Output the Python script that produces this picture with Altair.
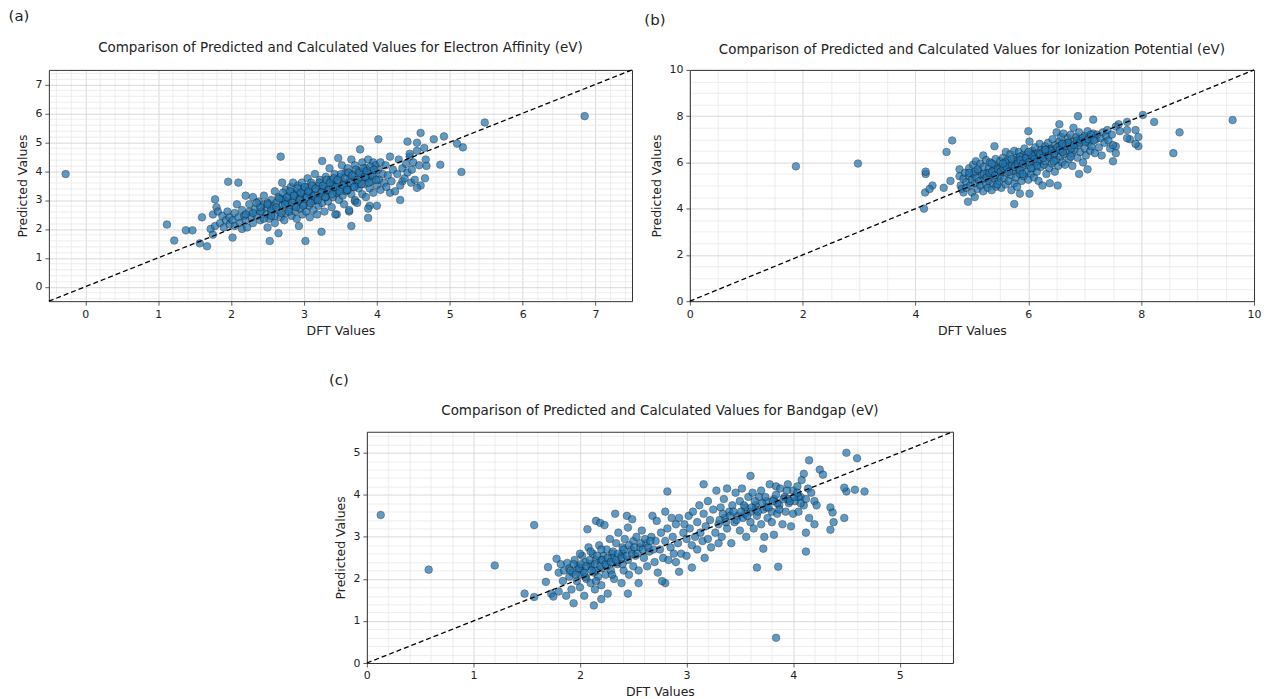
import altair as alt
import pandas as pd
import numpy as np

# ---------------- Panel (a): Electron Affinity ----------------
ea_x = [-0.27, 6.85, 5.48, 1.12, 1.22, 1.38, 1.47, 1.57, 1.67, 1.6, 1.75, 1.78, 1.96, 2.1, 2.02, 2.68, 2.53, 3.02, 3.24, 2.65,
        2.93, 3.65, 3.88, 4.32, 5.16, 4.87, 5.18, 5.1, 4.92, 4.78, 4.6, 4.02, 3.77, 4.42, 4.55, 4.65, 4.45, 4.67, 4.68, 4.66,
        4.6, 4.55, 4.47, 4.35, 4.18, 4.0, 3.9, 3.88, 3.7, 3.45, 3.62,
        1.72, 1.75, 1.78, 1.8, 1.82, 1.85, 1.88, 1.9, 1.93, 1.95, 1.98, 1.98,
        2.02, 2.05, 2.05, 2.08, 2.1, 2.12, 2.15, 2.15, 2.18, 2.2, 2.2, 2.22, 2.25, 2.25, 2.28, 2.3, 2.3,
        2.33, 2.35, 2.38, 2.4, 2.42, 2.45, 2.45, 2.48, 2.5, 2.5, 2.52, 2.55, 2.55, 2.58, 2.6, 2.6, 2.6,
        2.62, 2.65, 2.65, 2.68, 2.7, 2.7, 2.72, 2.73, 2.75, 2.75, 2.78, 2.8, 2.8, 2.82, 2.83, 2.85, 2.85, 2.87, 2.88, 2.9,
        2.9, 2.92, 2.93, 2.95, 2.95, 2.97, 2.98, 3.0, 3.0, 3.02, 3.03, 3.05, 3.05, 3.07, 3.08, 3.1, 3.1, 3.12, 3.13, 3.15,
        3.15, 3.17, 3.18, 3.2, 3.2,
        3.22, 3.23, 3.25, 3.25, 3.27, 3.28, 3.3, 3.3, 3.32, 3.33, 3.35, 3.35, 3.37, 3.38, 3.4, 3.4, 3.42, 3.43, 3.45, 3.45,
        3.47, 3.48, 3.5, 3.5,
        3.52, 3.53, 3.55, 3.55, 3.57, 3.58, 3.6, 3.6, 3.62, 3.63, 3.65, 3.65, 3.67, 3.68, 3.7, 3.7, 3.72, 3.73, 3.75, 3.75,
        3.78, 3.8, 3.8,
        3.82, 3.83, 3.85, 3.85, 3.87, 3.88, 3.9, 3.92, 3.93, 3.95, 3.95, 3.97, 3.98, 4.0, 4.02, 4.03, 4.05, 4.05, 4.08, 4.1,
        4.12, 4.13, 4.15, 4.18, 4.2, 4.22, 4.25, 4.28, 4.3, 4.32, 4.35, 4.38, 4.4, 4.42, 4.45, 4.48, 4.5, 4.52, 4.55, 4.58,
        2.4, 2.55, 2.75, 2.95, 3.1, 3.25, 3.4, 3.55, 3.7, 3.85, 2.85, 3.0, 3.15, 3.3, 3.45, 3.6, 3.75, 2.5, 2.7, 3.05]
ea_y = [3.9, 5.9, 5.68, 2.15, 1.6, 1.95, 1.95, 1.5, 1.4, 2.4, 2.5, 3.02, 3.63, 3.6, 1.7, 4.5, 1.58, 1.58, 1.9, 1.85,
        2.1, 2.1, 2.38, 3.0, 3.97, 4.22, 4.82, 4.95, 5.2, 5.1, 5.32, 5.1, 4.75, 5.02, 4.98, 4.8, 4.5, 4.4, 4.18, 3.75,
        3.5, 3.42, 3.6, 3.65, 3.25, 2.8, 2.8, 2.7, 2.95, 2.5, 2.6,
        2.0, 1.8, 2.1, 2.75, 2.6, 2.2, 2.45, 2.05, 2.3, 2.6, 2.15, 2.4,
        2.3, 2.55, 2.1, 2.85, 2.4, 2.2, 2.65, 2.0, 2.45, 3.15, 2.3, 2.05, 2.6, 2.85, 2.4, 3.1, 2.2,
        2.7, 2.45, 2.95, 2.3, 2.6, 2.85, 3.15, 2.5, 2.05, 2.75, 2.35, 3.0, 2.6, 2.8, 3.3, 2.45, 2.2,
        2.9, 2.65, 3.1, 2.4, 3.6, 2.8, 3.0, 2.3, 3.35, 2.55, 2.9, 3.15, 2.7, 3.45, 2.45, 3.0, 3.6, 2.8, 2.6, 3.25,
        2.35, 3.5, 2.95, 3.1, 2.7, 3.6, 2.5, 3.3, 2.85, 3.05, 2.6, 3.75, 3.45, 2.8, 2.4, 3.2, 3.6, 2.95, 2.65, 3.9,
        3.35, 3.05, 2.5, 3.5, 2.8,
        3.7, 3.15, 4.35, 2.9, 3.4, 2.6, 3.8, 3.25, 3.55, 2.95, 4.1, 3.35, 3.7, 2.75, 3.5, 3.1, 3.9, 2.5, 3.65, 3.25,
        4.45, 3.0, 3.8, 3.4,
        4.2, 3.15, 3.6, 2.85, 3.95, 3.3, 4.1, 3.5, 2.65, 3.75, 4.4, 3.2, 3.9, 3.45, 4.2, 3.0, 3.65, 2.9, 4.0, 3.4,
        3.8, 4.3, 3.2,
        3.95, 3.55, 4.1, 3.1, 3.75, 4.4, 3.4, 4.0, 3.65, 4.3, 3.25, 3.85, 4.2, 3.5, 4.05, 3.7, 4.3, 3.35, 3.9, 3.6,
        4.2, 3.45, 3.85, 4.5, 3.65, 4.05, 3.3, 3.9, 4.4, 3.5, 4.1, 3.75, 4.25, 3.95, 4.6, 4.05, 4.3, 3.7, 4.7, 4.2,
        2.6, 2.7, 2.95, 3.05, 3.15, 3.3, 3.45, 3.55, 3.7, 3.8, 3.2, 3.35, 3.0, 3.1, 3.25, 3.35, 3.55, 2.9, 3.05, 3.25]
ea_x_core = [2.62, 2.66, 2.69, 2.71, 2.74, 2.77, 2.79, 2.81, 2.84, 2.86, 2.89, 2.91, 2.94, 2.96, 2.99, 3.01, 3.04, 3.06,
             3.09, 3.11, 3.14, 3.16, 3.19, 3.21, 3.24, 3.26, 3.29, 3.31, 3.34, 3.36, 3.39, 3.41, 3.44, 3.46, 3.49, 3.51,
             3.54, 3.56, 3.59, 3.61, 3.64, 3.66, 3.69, 3.71, 3.74, 3.76, 3.79, 3.81, 3.84, 3.86, 3.89, 3.91, 3.94, 3.96,
             3.99, 2.2, 2.3, 2.4, 2.5, 2.35, 2.45, 2.55]
ea_y_core = [2.75, 3.05, 2.55, 3.25, 2.85, 3.1, 2.6, 3.3, 2.9, 3.15, 2.75, 3.4, 3.0, 3.25, 2.8, 3.45, 3.1, 3.3,
             2.9, 3.5, 3.15, 3.4, 3.0, 3.6, 3.25, 3.5, 3.1, 3.7, 3.35, 3.6, 3.2, 3.75, 3.45, 3.7, 3.3, 3.9,
             3.5, 3.75, 3.35, 3.95, 3.6, 3.85, 3.45, 4.05, 3.7, 3.95, 3.55, 4.1, 3.8, 4.0, 3.6, 4.15, 3.85, 4.05,
             3.7, 2.5, 2.55, 2.75, 2.85, 2.9, 2.35, 2.45]

# ---------------- Panel (b): Ionization Potential ----------------
ip_x = [1.88, 2.98, 4.15, 4.17, 4.18, 4.18, 4.3, 4.25, 4.5, 4.55, 4.65, 4.62, 9.62, 8.68, 8.57, 8.23, 8.03, 7.95, 7.9, 7.5,
        6.88, 7.15, 6.55, 5.75, 4.93, 6.52, 6.02, 5.85, 6.9, 7.05, 6.38, 7.75, 7.6, 7.8, 7.75, 7.9, 7.95, 7.55, 7.55, 7.55,
        7.62, 7.75, 6.0, 5.4, 5.2,
        4.78, 4.78, 4.8, 4.82, 4.85, 4.85, 4.88, 4.9, 4.9, 4.95, 4.95, 4.97, 5.0, 5.0,
        5.02, 5.03, 5.05, 5.05, 5.07, 5.08, 5.1, 5.12, 5.13, 5.15, 5.15, 5.18, 5.2, 5.2, 5.22, 5.25, 5.25, 5.27, 5.28, 5.3, 5.3,
        5.32, 5.33, 5.35, 5.37, 5.38, 5.4, 5.4, 5.42, 5.43, 5.45, 5.47, 5.48, 5.5, 5.5, 5.52, 5.53, 5.55, 5.57, 5.58, 5.6, 5.6,
        5.62, 5.63, 5.65, 5.67, 5.68, 5.7, 5.7, 5.72, 5.73, 5.75, 5.75, 5.77, 5.78, 5.8, 5.8, 5.82, 5.83, 5.85, 5.87, 5.88,
        5.9, 5.9,
        5.92, 5.93, 5.95, 5.97, 5.98, 6.0, 6.0, 6.02, 6.03, 6.05, 6.07, 6.08, 6.1, 6.1, 6.12, 6.13, 6.15, 6.17, 6.18, 6.2, 6.2,
        6.22, 6.23, 6.25, 6.27, 6.28, 6.3, 6.3, 6.32, 6.35, 6.35, 6.37, 6.38, 6.4, 6.42, 6.43, 6.45, 6.47, 6.48, 6.5, 6.5,
        6.52, 6.53, 6.55, 6.57, 6.58, 6.6, 6.6, 6.62, 6.63, 6.65, 6.67, 6.68, 6.7, 6.72, 6.73, 6.75, 6.77, 6.78, 6.8, 6.8,
        6.82, 6.85, 6.87, 6.88, 6.9, 6.92, 6.95, 6.97, 7.0, 7.0, 7.02, 7.05, 7.07, 7.1, 7.1,
        7.12, 7.15, 7.18, 7.2, 7.22, 7.25, 7.28, 7.3, 7.32, 7.35, 7.38, 7.4, 7.42, 7.45, 7.48, 7.5,
        5.5, 5.65, 5.8, 5.95, 6.1, 6.25, 6.4, 6.55, 6.7, 5.6, 5.85, 6.05, 6.3, 6.6, 6.9]
ip_y = [5.83, 5.95, 4.0, 4.7, 5.5, 5.6, 5.0, 4.85, 4.9, 6.45, 6.95, 5.2, 7.83, 7.3, 6.4, 7.75, 8.05, 6.7, 6.8, 6.05,
        8.0, 7.85, 7.65, 4.2, 4.3, 5.0, 4.65, 4.65, 5.5, 5.7, 5.1, 7.75, 7.65, 7.0, 7.05, 7.4, 7.1, 6.4, 6.7, 7.55,
        7.35, 7.4, 7.35, 6.7, 6.3,
        5.7, 5.4, 5.0, 4.85, 5.3, 4.7, 5.55, 5.15, 4.9, 5.75, 5.4, 5.0, 5.25, 4.7,
        5.9, 5.5, 5.1, 4.5, 6.05, 5.35, 4.85, 5.65, 5.2, 5.95, 5.0, 5.45, 4.75, 5.8, 5.3, 6.1, 5.05, 5.55, 4.9, 5.75, 5.2,
        6.0, 5.45, 4.8, 5.65, 5.1, 5.9, 5.3, 6.15, 4.95, 5.55, 5.8, 5.2, 6.05, 5.4, 4.9, 5.65, 6.2, 5.3, 5.9, 5.05, 6.45,
        5.55, 6.1, 5.2, 5.8, 6.35, 4.8, 5.45, 6.0, 5.65, 6.5, 5.1, 5.9, 5.35, 6.2, 4.95, 5.7, 6.45, 5.5, 6.0, 5.2,
        6.3, 5.8,
        5.4, 6.6, 6.05, 5.6, 6.35, 5.25, 5.9, 6.9, 6.15, 5.5, 6.5, 5.75, 6.25, 5.35, 6.65, 6.0, 5.6, 6.4, 5.2, 6.8, 6.1,
        5.8, 6.55, 5.0, 6.3, 5.9, 6.7, 6.05, 5.5, 6.85, 6.4, 5.75, 6.2, 6.6, 5.95, 7.0, 6.3, 5.6, 6.75, 6.1, 7.3,
        6.5, 5.85, 6.9, 6.25, 7.1, 6.0, 6.6, 7.25, 6.35, 5.9, 6.8, 6.5, 7.05, 6.15, 6.7, 7.2, 6.4, 5.85, 6.9, 7.5,
        6.55, 7.1, 6.2, 6.75, 7.3, 6.45, 6.95, 6.0, 7.15, 6.6, 6.3, 7.35, 6.85, 6.5, 7.1,
        6.7, 7.25, 6.4, 7.0, 7.2, 6.65, 7.05, 6.3, 7.3, 6.85, 7.15, 7.4, 6.95, 6.6, 7.2, 6.75,
        5.75, 5.85, 6.1, 6.2, 6.35, 6.45, 6.55, 6.7, 6.85, 6.0, 6.25, 6.35, 6.55, 6.75, 6.95]
ip_x_core = [5.21, 5.26, 5.31, 5.36, 5.41, 5.46, 5.51, 5.56, 5.61, 5.66, 5.71, 5.76, 5.81, 5.86, 5.91, 5.96, 6.01, 6.06,
             6.11, 6.16, 6.21, 6.26, 6.31, 6.36, 6.41, 6.46, 6.51, 6.56, 6.61, 6.66, 6.71, 6.76, 6.81, 6.86, 6.91, 6.96,
             7.01, 7.06, 7.11, 7.16, 5.55, 5.7, 5.85, 6.0, 6.15, 6.3, 6.45, 6.6, 6.75, 5.35, 5.05, 4.95, 5.1, 5.45, 5.9,
             6.05]
ip_y_core = [5.5, 5.35, 5.55, 5.6, 5.45, 5.7, 5.6, 5.75, 5.8, 5.6, 5.9, 5.8, 5.95, 6.1, 5.95, 6.2, 6.0, 6.3,
             6.15, 6.05, 6.35, 6.2, 6.45, 6.3, 6.5, 6.4, 6.65, 6.55, 6.45, 6.7, 6.85, 6.6, 6.75, 6.95, 6.85, 7.05,
             6.9, 7.0, 7.2, 6.95, 5.95, 6.15, 5.65, 6.45, 5.85, 6.55, 6.05, 6.8, 6.25, 5.95, 5.6, 5.55, 5.7, 5.05, 5.5,
             5.75]

# ---------------- Panel (c): Bandgap ----------------
bg_x = [0.13, 0.58, 1.2, 1.57, 1.48, 1.57, 3.84, 3.66, 3.86, 4.12, 4.5, 4.6, 4.67, 4.58, 4.5, 4.48, 4.48, 4.15, 4.25, 4.28,
        2.82, 3.6, 3.16, 4.38, 4.35, 4.37, 4.35, 2.13, 1.94, 2.45, 2.2, 2.8, 2.55, 2.93, 3.05, 3.72, 3.82, 4.12, 4.2,
        1.68, 1.7, 1.73, 1.75, 1.78, 1.8, 1.8, 1.82, 1.84, 1.85, 1.87, 1.88, 1.9, 1.9, 1.92, 1.93, 1.95, 1.97, 1.98, 2.0, 2.0,
        2.02, 2.03, 2.04, 2.05, 2.06, 2.07, 2.08, 2.1, 2.1, 2.12, 2.13, 2.14, 2.15, 2.15, 2.17, 2.18, 2.19, 2.2, 2.2, 2.22,
        2.23, 2.24, 2.25, 2.26, 2.27, 2.28, 2.29, 2.3,
        2.32, 2.33, 2.34, 2.35, 2.36, 2.38, 2.39, 2.4, 2.41, 2.42, 2.44, 2.45, 2.45, 2.46, 2.48, 2.49, 2.5, 2.5, 2.52, 2.53,
        2.55, 2.56, 2.58, 2.6,
        2.62, 2.63, 2.65, 2.67, 2.68, 2.7, 2.71, 2.72, 2.73, 2.75, 2.76, 2.77, 2.78, 2.8, 2.8, 2.82, 2.83, 2.85, 2.86, 2.87,
        2.88, 2.9, 2.9,
        2.92, 2.93, 2.95, 2.97, 2.98, 3.0, 3.0, 3.02, 3.03, 3.05, 3.06, 3.08, 3.1, 3.1, 3.12, 3.13, 3.15, 3.16, 3.17, 3.18,
        3.2, 3.2,
        3.22, 3.23, 3.25, 3.27, 3.28, 3.3, 3.3, 3.32, 3.33, 3.35, 3.36, 3.38, 3.38, 3.4, 3.42, 3.43, 3.45, 3.46, 3.48, 3.5, 3.5,
        3.52, 3.53, 3.55, 3.56, 3.58, 3.6, 3.6, 3.62, 3.63, 3.65, 3.66, 3.68, 3.7, 3.7, 3.72, 3.73, 3.75, 3.76, 3.78, 3.8, 3.8,
        3.82, 3.84, 3.85, 3.87, 3.88, 3.9, 3.92, 3.93, 3.95, 3.96, 3.98, 4.0, 4.0, 4.02, 4.04, 4.05, 4.07, 4.08, 4.1, 4.1,
        4.12, 4.14, 4.15, 4.17, 4.2, 4.22,
        2.0, 2.1, 2.2, 2.3, 2.4, 2.05, 2.15, 2.25, 2.35, 3.55, 3.65, 3.75, 3.85, 3.95, 4.05]
bg_y = [3.52, 2.22, 2.32, 3.28, 1.65, 1.57, 0.6, 2.27, 2.29, 2.65, 5.0, 4.87, 4.08, 4.12, 4.08, 4.17, 3.45, 4.82, 4.6, 4.48,
        4.08, 4.45, 4.25, 3.35, 3.7, 3.58, 3.17, 1.37, 1.42, 1.65, 1.52, 1.9, 1.9, 2.17, 2.27, 2.72, 3.05, 3.1, 3.3,
        1.93, 2.28, 1.65, 1.58, 2.48, 2.15, 1.7, 2.35, 1.95, 2.2, 1.6, 2.38, 2.05, 2.25, 1.75, 2.15, 2.45, 1.95, 2.3, 2.1, 1.8,
        2.55, 2.2, 1.6, 2.4, 2.0, 3.18, 2.75, 2.3, 1.9, 2.6, 2.15, 1.75, 3.38, 2.45, 2.05, 2.8, 3.33, 2.25, 1.85, 2.55,
        3.28, 2.1, 2.7, 1.65, 2.4, 2.95, 2.2, 2.6,
        2.0, 3.55, 2.85, 2.35, 3.1, 2.55, 1.9, 2.75, 2.2, 2.95, 3.5, 2.45, 3.22, 2.1, 2.7, 3.42, 2.3, 2.9, 2.55, 3.0,
        2.2, 2.75, 3.15, 2.5,
        2.85, 2.3, 2.65, 3.0, 3.5, 2.4, 2.9, 3.38, 2.15, 2.7, 3.1, 1.95, 2.5, 2.9, 3.6, 3.2, 2.45, 2.75, 3.45, 3.0,
        2.6, 3.3, 2.4,
        2.85, 3.45, 2.6, 3.1, 3.3, 2.95, 2.55, 3.5, 3.2, 2.8, 3.6, 3.0, 3.35, 2.7, 3.75, 3.1, 2.9, 3.55, 2.5, 3.25,
        3.85, 2.95,
        3.4, 2.75, 3.65, 3.1, 4.1, 3.3, 2.85, 3.7, 3.0, 3.9, 3.45, 4.15, 3.2, 3.6, 2.85, 3.75, 3.35, 4.05, 3.5, 3.15, 3.85,
        4.15, 3.45, 3.7, 3.0, 3.95, 3.35, 3.6, 4.05, 3.2, 3.75, 3.5, 3.95, 3.3, 4.1, 3.65, 3.0, 3.85, 3.45, 4.25, 3.6, 3.35,
        3.9, 4.2, 3.55, 3.75, 4.15, 3.3, 3.95, 3.6, 4.25, 3.8, 3.25, 4.1, 3.55, 3.85, 4.2, 3.6, 3.95, 4.35, 3.75, 4.5,
        3.9, 4.15, 3.45, 4.05, 3.85, 3.75,
        2.25, 2.35, 2.45, 2.5, 2.6, 2.05, 2.2, 2.3, 2.4, 3.55, 3.65, 3.7, 3.8, 3.9, 3.95]
bg_x_core = [1.91, 1.94, 1.96, 1.99, 2.01, 2.04, 2.06, 2.09, 2.11, 2.14, 2.16, 2.19, 2.21, 2.24, 2.26, 2.29, 2.31, 2.34,
             2.36, 2.39, 2.41, 2.44, 2.46, 2.49, 2.51, 2.54, 2.57, 2.59, 2.61, 2.64, 2.66, 2.69, 3.31, 3.34, 3.37, 3.41,
             3.44, 3.47, 3.51, 3.54, 3.57, 3.61, 3.64, 3.67, 3.71, 3.74, 3.77, 3.81, 3.84, 3.87, 3.91, 3.94, 3.97, 4.01,
             4.04, 4.07, 2.0, 2.1, 2.2, 2.3, 2.4, 2.15]
bg_y_core = [2.2, 2.35, 2.1, 2.25, 2.35, 2.15, 2.3, 2.45, 2.2, 2.35, 2.55, 2.3, 2.45, 2.35, 2.5, 2.4, 2.65, 2.45,
             2.6, 2.5, 2.7, 2.55, 2.8, 2.6, 2.75, 2.6, 2.85, 2.7, 2.95, 2.75, 2.9, 2.7, 3.4, 3.55, 3.35, 3.5,
             3.6, 3.4, 3.6, 3.75, 3.5, 3.7, 3.85, 3.6, 3.8, 3.95, 3.7, 3.85, 4.0, 3.65, 3.9, 4.1, 3.85, 3.95,
             4.05, 3.8, 2.6, 2.65, 2.7, 2.1, 2.35, 1.95]

FONT = "DejaVu Sans"
POINT_FILL = "#1f77b4"
FRAME = "#333333"


def grid_values(lo, hi, step, major):
    start = np.ceil(lo / step - 1e-9) * step
    vals = [round(float(v), 3) for v in np.arange(start, hi + 1e-9, step)]
    majors = [v for v in vals if abs(v / major - round(v / major)) < 1e-6]
    minors = [v for v in vals if abs(v / major - round(v / major)) >= 1e-6]
    return majors, minors


def major_axis(title_text, orient, majors):
    return alt.Axis(
        title=title_text, orient=orient, values=majors, format="d",
        grid=True, gridColor="#cfcfcf", gridWidth=0.8,
        tickSize=4, tickColor=FRAME, tickWidth=0.8,
        domain=True, domainColor=FRAME, domainWidth=1,
        labelFont=FONT, labelFontSize=11, labelColor="#222", labelPadding=3,
        titleFont=FONT, titleFontSize=12.5, titleFontWeight="normal", titleColor="#222",
        titlePadding=5, labelFlush=False,
    )


def minor_axis(orient, minors):
    return alt.Axis(
        title="", orient=orient, values=minors, labels=False, ticks=False,
        grid=True, gridColor="#e9e9e9", gridWidth=0.8,
        domain=True, domainColor=FRAME, domainWidth=1,
    )


def panel(xs, ys, lo, hi, major, minor, title, tag, w, h, tag_dx, tag_dy, title_dy):
    df = pd.DataFrame({"DFT": xs, "Pred": ys})
    majors, minors = grid_values(lo, hi, minor, major)
    sc = alt.Scale(domain=[lo, hi], nice=False, zero=False)
    pts = alt.Chart(df).mark_circle(
        size=58, color=POINT_FILL, opacity=0.72, stroke="#1a1a1a", strokeWidth=0.6
    ).encode(
        x=alt.X("DFT:Q", scale=sc, axis=major_axis("DFT Values", "bottom", majors)),
        y=alt.Y("Pred:Q", scale=sc, axis=major_axis("Predicted Values", "left", majors)),
    )
    ldf = pd.DataFrame({"DFT": [lo, hi], "Pred": [lo, hi]})
    line = alt.Chart(ldf).mark_line(
        color="black", strokeDash=[5, 3], strokeWidth=1.3
    ).encode(
        x=alt.X("DFT:Q", scale=sc, axis=minor_axis("top", minors)),
        y=alt.Y("Pred:Q", scale=sc, axis=minor_axis("right", minors)),
    )
    tdf = pd.DataFrame({"tag": [tag], "title": [title]})
    tagm = alt.Chart(tdf).mark_text(
        font=FONT, fontSize=15, color="#222", align="center", baseline="middle"
    ).encode(x=alt.value(tag_dx), y=alt.value(tag_dy), text="tag:N")
    titm = alt.Chart(tdf).mark_text(
        font=FONT, fontSize=13.5, color="#222", align="center", baseline="middle"
    ).encode(x=alt.value(w / 2), y=alt.value(title_dy), text="title:N")
    return alt.layer(pts, line, tagm, titm).resolve_axis(
        x="independent", y="independent"
    ).properties(width=w, height=h)


pa = panel(ea_x + ea_x_core, ea_y + ea_y_core, -0.5, 7.5, 1, 0.2,
           "Comparison of Predicted and Calculated Values for Electron Affinity (eV)",
           "(a)", 585, 232, -30, -54, -22)
pb = panel(ip_x + ip_x_core, ip_y + ip_y_core, 0, 10, 2, 0.5,
           "Comparison of Predicted and Calculated Values for Ionization Potential (eV)",
           "(b)", 566, 232, -35, -50, -20)
pc = panel(bg_x + bg_x_core, bg_y + bg_y_core, 0, 5.5, 1, 0.2,
           "Comparison of Predicted and Calculated Values for Bandgap (eV)",
           "(c)", 588, 232, -28, -52, -21)

spacer = alt.Chart(pd.DataFrame({"v": [0]})).mark_point(opacity=0).encode(
    x=alt.value(0), y=alt.value(0)
).properties(width=281, height=10)

row1 = alt.hconcat(pa, pb, spacing=58, bounds="flush")
row2 = alt.hconcat(spacer, pc, spacing=0)
chart = alt.vconcat(row1, row2, spacing=36).properties(
    padding=0, background="white"
).configure_view(strokeWidth=0)

chart.save("out.html", embed_options={"renderer": "svg", "actions": False})
